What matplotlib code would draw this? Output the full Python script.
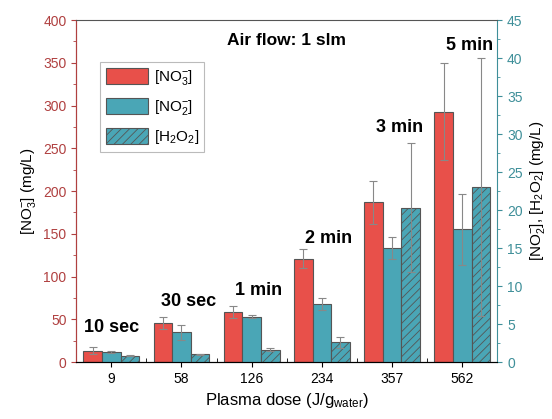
import numpy as np
import matplotlib.pyplot as plt
from matplotlib.ticker import MultipleLocator

plt.rcParams['font.family'] = ['Liberation Sans', 'DejaVu Sans']
plt.rcParams['mathtext.fontset'] = 'custom'
plt.rcParams['mathtext.rm'] = 'Liberation Sans'
plt.rcParams['mathtext.it'] = 'Liberation Sans:italic'
plt.rcParams['mathtext.bf'] = 'Liberation Sans:bold'
plt.rcParams['hatch.linewidth'] = 0.6

doses = ['9', '58', '126', '234', '357', '562']
times = ['10 sec', '30 sec', '1 min', '2 min', '3 min', '5 min']
no3 = [13, 46, 59, 121, 187, 293]
no3_err = [4, 7, 7, 11, 25, 57]
no2 = [1.36, 3.9, 5.96, 7.63, 14.96, 17.46]
no2_err = [0.15, 1.0, 0.2, 0.8, 1.45, 4.7]
h2o2 = [0.83, 1.0, 1.6, 2.6, 20.3, 23.06]
h2o2_err = [0.05, 0.05, 0.2, 0.75, 8.5, 17.0]
# label positions (left axis units)
label_y = [31, 61, 74, 134, 264, 360]

red = '#E8504A'
teal = '#4AA6B6'
red_ax = '#B04040'
teal_ax = '#3E8F99'

fig = plt.figure(figsize=(5.52, 4.19), dpi=100)
ax = fig.add_axes([0.138, 0.136, 0.763, 0.816])
ax2 = ax.twinx()

x = np.arange(len(doses))
w = 0.265
ekw = dict(ecolor='#888888', elinewidth=0.8, capsize=3, capthick=0.8)

b1 = ax.bar(x - w, no3, w, yerr=no3_err, color=red, edgecolor='#555555',
            linewidth=0.8, error_kw=ekw, label=r'[NO$_3^{-}$]')
b2 = ax2.bar(x, no2, w, yerr=no2_err, color=teal, edgecolor='#555555',
             linewidth=0.8, error_kw=ekw, label=r'[NO$_2^{-}$]')
b3 = ax2.bar(x + w, h2o2, w, yerr=h2o2_err, color=teal, edgecolor='#555555',
             linewidth=0.8, hatch='////', error_kw=ekw, label=r'[H$_2$O$_2$]')

ax.set_xlim(-0.5, 5.5)
ax.set_ylim(0, 400)
ax2.set_ylim(0, 45)
ax.set_xticks(x)
ax.set_xticklabels(doses, fontsize=10)
ax.set_xticks(x[:-1] + 0.5, minor=True)
ax.tick_params(axis='x', which='minor', direction='in', length=3)

ax.yaxis.set_major_locator(MultipleLocator(50))
ax.yaxis.set_minor_locator(MultipleLocator(25))
ax2.yaxis.set_major_locator(MultipleLocator(5))
ax2.yaxis.set_minor_locator(MultipleLocator(2.5))

ax.tick_params(axis='y', colors=red_ax, labelsize=10, which='both')
ax2.tick_params(axis='y', colors=teal_ax, labelsize=10, which='both')
ax.spines['left'].set_color(red_ax)
ax2.spines['left'].set_color(red_ax)
ax2.spines['right'].set_color(teal_ax)
ax.spines['right'].set_visible(False)
ax2.spines['top'].set_color('#555555')
ax.spines['top'].set_visible(False)

ax.set_ylabel(r'[NO$_3^{-}$] (mg/L)', fontsize=11)
ax2.set_ylabel(r'[NO$_2^{-}$], [H$_2$O$_2$] (mg/L)', fontsize=11)
ax.set_xlabel(r'Plasma dose (J/g$_{\mathregular{water}}$)', fontsize=12)

for i, t in enumerate(times):
    ax.text(x[i] + (0.0 if i == 0 else 0.1), label_y[i], t, ha='center',
            va='bottom', fontsize=13, fontweight='bold')
ax.text(0.5, 0.94, 'Air flow: 1 slm', transform=ax.transAxes, ha='center',
        va='center', fontsize=12.5, fontweight='bold')

leg = ax2.legend(handles=[b1, b2, b3], loc='upper left',
                 bbox_to_anchor=(0.057, 0.877), borderaxespad=0,
                 fontsize=11, fancybox=False, edgecolor='#aaaaaa',
                 handlelength=2.8, handleheight=1.3, handletextpad=0.35,
                 labelspacing=0.7, borderpad=0.35)
leg.get_frame().set_linewidth(0.8)

fig.savefig('out.png', dpi=100)
